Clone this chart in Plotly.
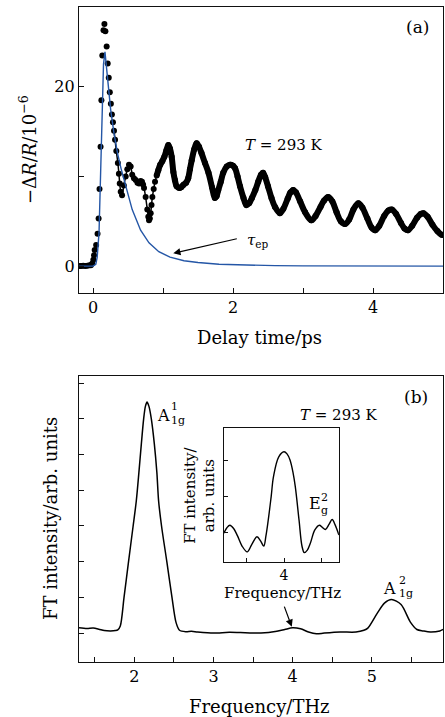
import plotly.graph_objects as go

FONT = "DejaVu Serif"

# ---------------- panel (a): transient reflectivity ----------------
delay_ps = [-0.20, -0.17, -0.14, -0.11, -0.08, -0.05, -0.03, -0.01, 0.005, 0.015,
            0.024, 0.045, 0.065, 0.08, 0.093, 0.108, 0.12, 0.133, 0.15, 0.163,
            0.177, 0.195, 0.21, 0.225, 0.24, 0.255, 0.27, 0.285, 0.30, 0.315,
            0.333, 0.355, 0.37, 0.382, 0.396, 0.415, 0.44, 0.467, 0.49, 0.514,
            0.538, 0.56, 0.585, 0.61, 0.635, 0.657, 0.68, 0.70, 0.715, 0.729,
            0.752, 0.776, 0.79, 0.80, 0.812, 0.824, 0.836, 0.848, 0.867, 0.886,
            0.91, 0.933, 0.96, 0.99, 1.02, 1.048, 1.076, 1.10, 1.124, 1.148,
            1.17, 1.195, 1.233, 1.26, 1.29, 1.33, 1.36, 1.385, 1.41, 1.445,
            1.48, 1.515, 1.55, 1.60, 1.65, 1.70, 1.74, 1.765, 1.79, 1.825,
            1.86, 1.91, 1.96, 2.00, 2.03, 2.065, 2.10, 2.15, 2.19, 2.23,
            2.27, 2.32, 2.36, 2.40, 2.43, 2.46, 2.50, 2.55, 2.60, 2.67,
            2.72, 2.78, 2.82, 2.86, 2.90, 2.96, 3.03, 3.12, 3.18, 3.25,
            3.30, 3.36, 3.42, 3.48, 3.54, 3.60, 3.66, 3.72, 3.79, 3.85,
            3.92, 3.98, 4.03, 4.09, 4.16, 4.22, 4.27, 4.33, 4.40, 4.45,
            4.50, 4.56, 4.63, 4.68, 4.72, 4.78, 4.85, 4.92, 4.98, 5.00]
dR_R = [0.0, 0.0, 0.05, 0.0, 0.05, 0.1, 0.1, 0.3, 0.7, 1.2,
        1.8, 2.35, 3.6, 5.3, 8.6, 13.3, 18.5, 23.5, 26.3, 27.0,
        26.2, 24.5, 22.6, 21.0, 19.4, 18.1, 16.9, 16.05, 15.1, 14.1,
        12.85, 11.5, 10.3, 9.2, 8.3, 7.9, 9.0, 10.0, 10.8, 11.3,
        11.1, 10.2, 9.8, 9.6, 9.3, 9.2, 9.5, 9.4, 9.1, 8.7,
        7.7, 6.3, 5.5, 5.1, 5.3, 5.9, 6.8, 7.7, 8.6, 9.4,
        10.1, 10.7, 11.3, 11.7, 12.2, 12.9, 13.5, 13.1, 12.2, 10.5,
        9.6, 8.9, 8.7, 8.8, 9.05, 9.3, 9.8, 10.8, 11.8, 13.0,
        13.7, 13.3, 12.6, 11.5, 10.4, 8.8, 7.6, 7.8, 8.5, 9.4,
        10.4, 11.1, 11.3, 11.2, 10.9, 10.0, 8.9, 7.6, 6.8, 7.0,
        7.6, 8.5, 9.4, 10.2, 10.4, 9.9, 8.9, 7.6, 6.6, 5.9,
        6.4, 7.5, 8.2, 8.5, 8.2, 7.2, 6.0, 5.1, 5.6, 6.6,
        7.3, 7.7, 7.2, 6.0, 5.0, 4.7, 5.2, 6.3, 7.0, 6.5,
        5.3, 4.3, 4.0, 4.5, 5.6, 6.2, 6.3, 5.8, 4.8, 4.2,
        4.0, 4.5, 5.4, 5.8, 5.9, 5.5, 4.6, 3.9, 3.5, 3.5]

fit_t = [-0.20, 0.00, 0.04, 0.06, 0.086, 0.10, 0.12, 0.133, 0.15, 0.171,
         0.20, 0.253, 0.30, 0.35, 0.40, 0.467, 0.56, 0.68, 0.80, 0.94,
         1.10, 1.30, 1.50, 1.80, 2.20, 2.60, 3.00, 4.00, 5.00]
fit_v = [0.0, 0.0, 0.2, 1.0, 3.7, 7.4, 13.3, 18.5, 22.5, 23.9,
         21.7, 17.4, 14.8, 12.6, 10.9, 8.9, 6.3, 4.0, 2.6, 1.6,
         1.0, 0.6, 0.4, 0.2, 0.1, 0.05, 0.02, 0.0, 0.0]

# ---------------- panel (b): Fourier spectrum ----------------
freq_THz = [1.30, 1.40, 1.48, 1.55, 1.62, 1.70, 1.76, 1.79, 1.822, 1.869,
            1.926, 1.984, 2.024, 2.057, 2.088, 2.117, 2.139, 2.16, 2.184, 2.214,
            2.252, 2.284, 2.306, 2.343, 2.41, 2.475, 2.526, 2.57, 2.65, 2.72,
            2.80, 3.00, 3.20, 3.40, 3.60, 3.80, 3.90, 4.00, 4.10, 4.20,
            4.30, 4.40, 4.60, 4.80, 4.90, 4.95, 5.07, 5.16, 5.25, 5.37,
            5.49, 5.57, 5.65, 5.74, 5.86, 5.90]
ft_amp = [0.15, 0.13, 0.14, 0.11, 0.07, 0.06, 0.07, 0.09, 0.2, 1.0,
          2.0, 3.0, 3.7, 4.5, 5.3, 6.0, 6.35, 6.47, 6.35, 6.0,
          5.3, 4.5, 3.7, 3.0, 2.0, 1.0, 0.3, 0.08, 0.04, 0.05,
          0.03, 0.00, 0.02, 0.01, 0.00, 0.05, 0.10, 0.15, 0.12, 0.03,
          -0.02, 0.00, 0.03, 0.03, 0.08, 0.14, 0.56, 0.84, 0.94, 0.80,
          0.30, 0.10, 0.06, 0.03, 0.06, 0.10]

inset_freq = [3.20, 3.24, 3.28, 3.33, 3.38, 3.44, 3.51, 3.57, 3.64, 3.69,
              3.73, 3.76, 3.79, 3.83, 3.86, 3.93, 4.00, 4.04, 4.08, 4.12,
              4.15, 4.20, 4.24, 4.27, 4.31, 4.35, 4.41, 4.47, 4.51, 4.55,
              4.60, 4.64, 4.68, 4.73]
inset_amp = [0.97, 1.12, 1.19, 1.10, 0.90, 0.62, 0.45, 0.65, 0.87, 0.75,
             0.61, 0.90, 1.33, 2.00, 2.54, 3.09, 3.23, 3.17, 3.00, 2.65,
             2.26, 1.33, 0.60, 0.43, 0.50, 0.69, 1.06, 1.19, 1.13, 1.07,
             1.22, 1.35, 1.20, 0.92]

# tick labels
a_xticks = [0, 1, 2, 3, 4, 5]
a_xlabels = ["0", " ", "2", " ", "4", " "]
a_yticks = [0, 10, 20]
a_ylabels = ["0", " ", "20"]
b_xticks = [1.5, 2, 2.5, 3, 3.5, 4, 4.5, 5, 5.5]
b_xlabels = [" ", "2", " ", "3", " ", "4", " ", "5", " "]
b_yticks = [0, 1, 2, 3, 4, 5, 6, 7]
in_xticks = [3.5, 4, 4.5]
in_xlabels = [" ", "4", " "]
in_yticks = [1, 2, 3]

fig = go.Figure()

dense_t = [t for t in delay_ps if t >= 0.9]
dense_v = [v for t, v in zip(delay_ps, dR_R) if t >= 0.9]
mid_t = [t for t in delay_ps if 0.3 <= t <= 0.95]
mid_v = [v for t, v in zip(delay_ps, dR_R) if 0.3 <= t <= 0.95]
base_t = [t for t in delay_ps if t <= 0.0]
base_v = [v for t, v in zip(delay_ps, dR_R) if t <= 0.0]

fig.add_trace(go.Scatter(x=base_t, y=base_v, mode="lines",
                         line=dict(color="black", width=5), xaxis="x", yaxis="y",
                         showlegend=False, hoverinfo="skip"))
fig.add_trace(go.Scatter(x=mid_t, y=mid_v, mode="lines",
                         line=dict(color="black", width=1.5, shape="spline"),
                         xaxis="x", yaxis="y", showlegend=False, hoverinfo="skip"))
fig.add_trace(go.Scatter(x=dense_t, y=dense_v, mode="lines",
                         line=dict(color="black", width=6, shape="spline"),
                         xaxis="x", yaxis="y", showlegend=False, hoverinfo="skip"))
fig.add_trace(go.Scatter(x=delay_ps, y=dR_R, mode="markers",
                         marker=dict(color="black", size=6),
                         xaxis="x", yaxis="y", showlegend=False))
fig.add_trace(go.Scatter(x=fit_t, y=fit_v, mode="lines",
                         line=dict(color="#2456a6", width=1.4),
                         xaxis="x", yaxis="y", showlegend=False))

fig.add_trace(go.Scatter(x=freq_THz, y=ft_amp, mode="lines",
                         line=dict(color="black", width=1.5, shape="spline", smoothing=0.8),
                         xaxis="x2", yaxis="y2", showlegend=False))
fig.add_trace(go.Scatter(x=inset_freq, y=inset_amp, mode="lines",
                         line=dict(color="black", width=1.4, shape="spline"),
                         xaxis="x3", yaxis="y3", showlegend=False))

axis_common = dict(showline=True, linecolor="#111", linewidth=1.3, mirror=True,
                   ticks="inside", ticklen=5, tickwidth=1, tickcolor="#111",
                   showgrid=False, zeroline=False,
                   tickfont=dict(family=FONT, size=16, color="black"))

fig.update_layout(
    width=445, height=717,
    margin=dict(l=79, r=2, t=7, b=55),
    paper_bgcolor="white", plot_bgcolor="white",
    font=dict(family=FONT, color="black"),
    xaxis=dict(domain=[0, 1], range=[-0.2, 5.0], anchor="y",
               tickmode="array", tickvals=a_xticks, ticktext=a_xlabels, **axis_common),
    yaxis=dict(domain=[0.5634, 1], range=[-3, 28.9], anchor="x",
               tickmode="array", tickvals=a_yticks, ticktext=a_ylabels, **axis_common),
    xaxis2=dict(domain=[0, 1], range=[1.3, 5.9], anchor="y2",
                tickmode="array", tickvals=b_xticks, ticktext=b_xlabels, **axis_common),
    yaxis2=dict(domain=[0, 0.4366], range=[-0.81, 7.2], anchor="x2",
                tickmode="array", tickvals=b_yticks, showticklabels=False, **axis_common),
    xaxis3=dict(domain=[0.398, 0.714], range=[3.2, 4.73], anchor="y3",
                tickmode="array", tickvals=in_xticks, ticktext=in_xlabels,
                **{**axis_common, "tickfont": dict(family=FONT, size=14, color="black"),
                   "ticklen": 4, "linewidth": 1.1}),
    yaxis3=dict(domain=[0.1527, 0.3573], range=[0.17, 3.89], anchor="x3",
                tickmode="array", tickvals=in_yticks, showticklabels=False,
                **{**axis_common, "ticklen": 4, "linewidth": 1.1}),
)


def txt(text, x, y, xref="paper", yref="paper", size=16, angle=0, xanchor="center", **kw):
    return dict(text=text, x=x, y=y, xref=xref, yref=yref, showarrow=False,
                textangle=angle, xanchor=xanchor, yanchor="middle",
                font=dict(family=FONT, size=size, color="black"), **kw)


anns = [
    # axis titles
    txt("\u2212\u0394<i>R</i>/<i>R</i>/10<sup>\u22126</sup>", -0.14, 0.7817, size=18, angle=-90),
    txt("Delay time/ps", 0.497, 0.4947, size=18),
    txt("FT intensity/arb. units", -0.0797, 0.2198, size=18, angle=-90),
    txt("Frequency/THz", 0.497, -0.0687, size=18),
    # inset titles
    txt("FT intensity/<br>arb. units", 0.332, 0.255, size=15, angle=-90),
    txt("Frequency/THz", 0.560, 0.1054, size=15),
    # panel (a)
    txt("(a)", 4.636, 26.65, "x", "y", size=17),
    txt("<i>T</i> = 293 K", 2.73, 13.5, "x", "y", size=15),
    txt("<i>\u03c4</i><sub>ep</sub>", 2.357, 2.9, "x", "y", size=15),
    # panel (b)
    txt("(b)", 5.555, 6.62, "x2", "y2", size=17),
    txt("<i>T</i> = 293 K", 4.59, 6.1, "x2", "y2", size=15),
    txt("A", 2.362, 6.106, "x2", "y2", size=16),
    txt("1", 2.441, 6.34, "x2", "y2", size=11, xanchor="left"),
    txt("1g", 2.441, 5.95, "x2", "y2", size=11, xanchor="left"),
    txt("A", 5.219, 1.26, "x2", "y2", size=16),
    txt("2", 5.317, 1.46, "x2", "y2", size=11, xanchor="left"),
    txt("1g", 5.317, 1.11, "x2", "y2", size=11, xanchor="left"),
    txt("E", 0.6497, 0.2427, size=16),
    txt("2", 0.658, 0.2510, size=11, xanchor="left"),
    txt("g", 0.658, 0.2320, size=11, xanchor="left"),
    # arrows
    dict(x=1.147, y=1.42, ax=2.076, ay=3.09, xref="x", yref="y", axref="x", ayref="y",
         showarrow=True, arrowhead=2, arrowsize=1.2, arrowwidth=1.2, arrowcolor="black", text=""),
    dict(x=3.989, y=0.176, ax=3.888, ay=0.784, xref="x2", yref="y2", axref="x2", ayref="y2",
         showarrow=True, arrowhead=2, arrowsize=1.2, arrowwidth=1.2, arrowcolor="black", text=""),
]
fig.update_layout(annotations=anns)

fig.write_html("out.html", config={"displayModeBar": False},
               post_script="document.body.style.margin='0';document.body.style.overflow='hidden';")
